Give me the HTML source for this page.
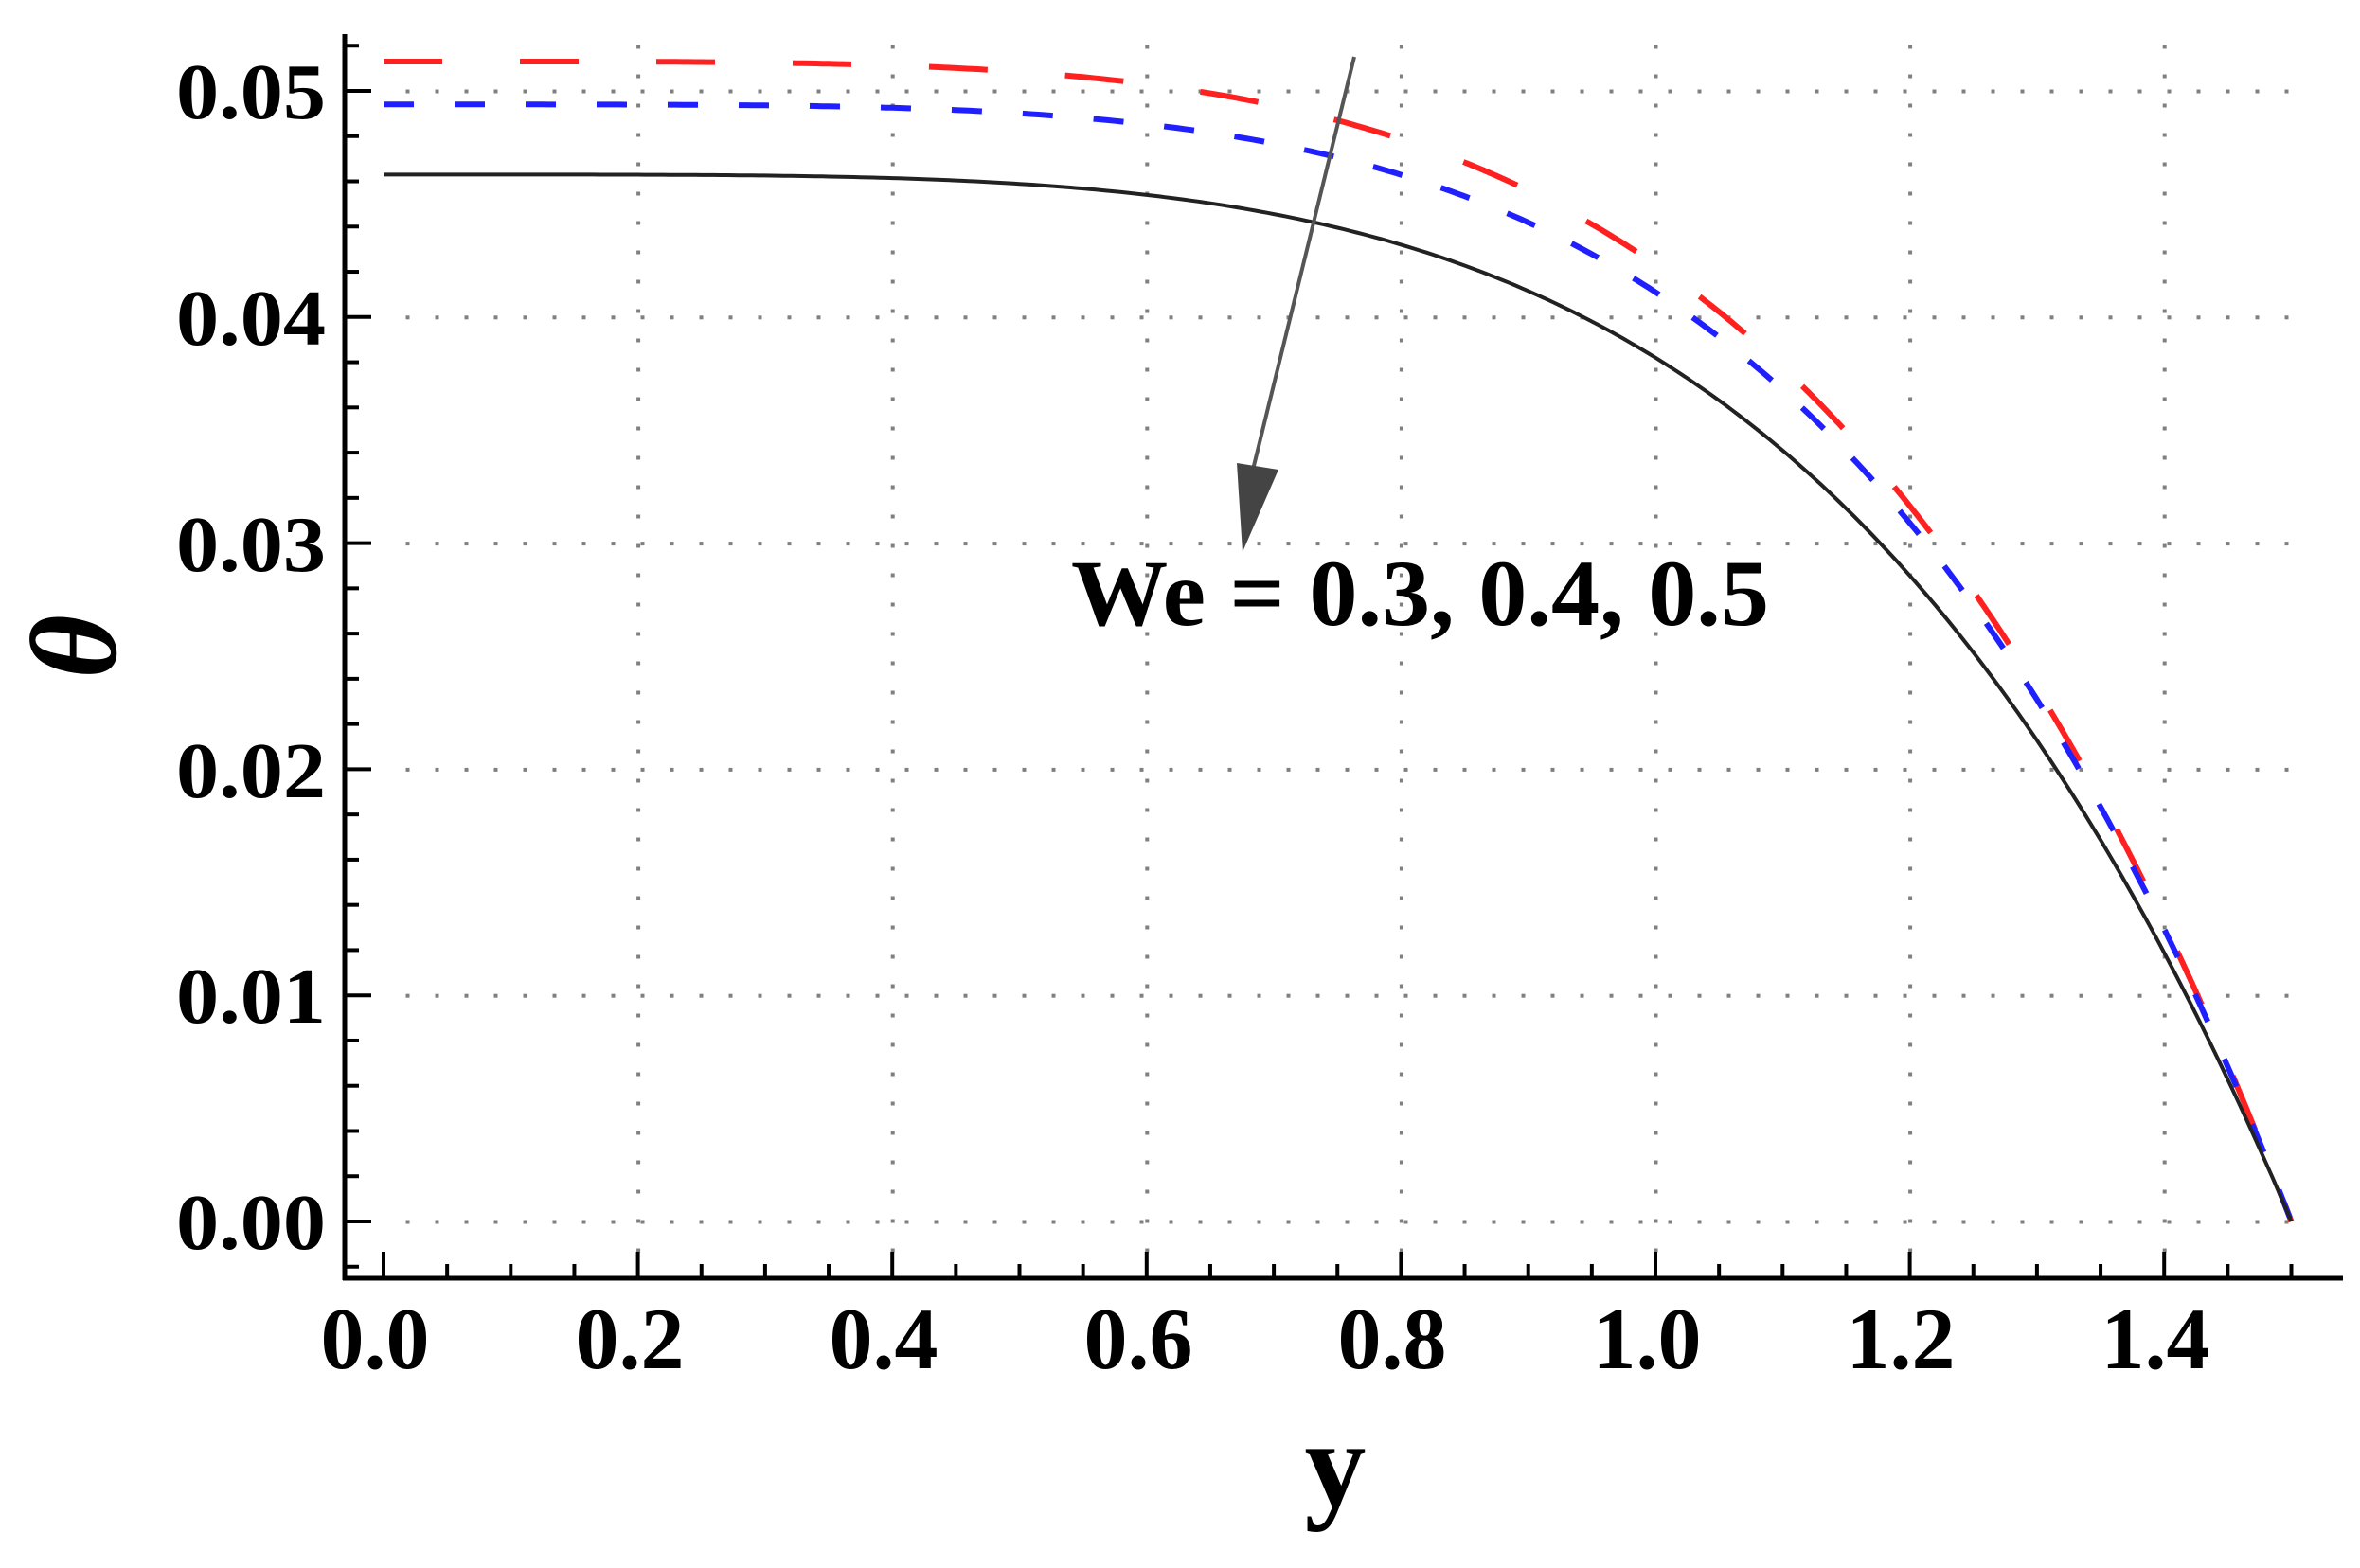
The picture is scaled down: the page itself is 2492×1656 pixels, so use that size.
<!DOCTYPE html>
<html><head><meta charset="utf-8"><style>
html,body{margin:0;padding:0;background:#fff;}
svg{display:block;}
text{font-family:"Liberation Serif",serif;font-weight:bold;fill:#000;}
</style></head><body>
<svg id="s" width="2492" height="1656" viewBox="0 0 2492 1656" xmlns="http://www.w3.org/2000/svg">
<g id="grid" fill="#808080"></g>
<g id="curves" fill="none"></g>
<line x1="364" y1="36" x2="364" y2="1352" stroke="#000" stroke-width="5"/>
<line x1="362" y1="1350" x2="2474" y2="1350" stroke="#000" stroke-width="5"/>
<g id="ticks" stroke="#000" stroke-width="4"></g>
<g font-size="84">
<text x="344" y="125" text-anchor="end" textLength="158" lengthAdjust="spacingAndGlyphs">0.05</text>
<text x="344" y="364" text-anchor="end" textLength="158" lengthAdjust="spacingAndGlyphs">0.04</text>
<text x="344" y="603" text-anchor="end" textLength="158" lengthAdjust="spacingAndGlyphs">0.03</text>
<text x="344" y="842" text-anchor="end" textLength="158" lengthAdjust="spacingAndGlyphs">0.02</text>
<text x="344" y="1080" text-anchor="end" textLength="158" lengthAdjust="spacingAndGlyphs">0.01</text>
<text x="344" y="1319" text-anchor="end" textLength="158" lengthAdjust="spacingAndGlyphs">0.00</text>
</g>
<g font-size="92" text-anchor="middle">
<text x="396" y="1445">0.0</text>
<text x="665" y="1445">0.2</text>
<text x="933" y="1445">0.4</text>
<text x="1202" y="1445">0.6</text>
<text x="1470" y="1445">0.8</text>
<text x="1739" y="1445">1.0</text>
<text x="2007" y="1445">1.2</text>
<text x="2276" y="1445">1.4</text>
</g>
<text x="1410" y="1590" font-size="130" text-anchor="middle">y</text>
<text x="0" y="0" font-size="130" font-style="italic" text-anchor="middle" transform="translate(122,683) rotate(-90)">θ</text>
<line x1="1430" y1="60" x2="1322" y2="500" stroke="#555" stroke-width="4"/>
<polygon points="1306,489 1350,496 1312,583" fill="#444"/>
<text x="1131" y="660" font-size="100" textLength="737" lengthAdjust="spacingAndGlyphs">We = 0.3, 0.4, 0.5</text>
</svg>
<script>
(function(){
var NS="http://www.w3.org/2000/svg";
function px(x){return 405+x*1343;}
function py(v){return 1290-v*23880;}
var g=document.getElementById('grid'),t=document.getElementById('ticks'),c=document.getElementById('curves');
function el(p,tag,a){var e=document.createElementNS(NS,tag);for(var k in a)e.setAttribute(k,a[k]);p.appendChild(e);return e;}
for(var i=0;i<=5;i++){var y=py(i*0.01);for(var x=430;x<2440;x+=31)el(g,'rect',{x:x-1.5,y:y-1.5,width:4,height:4});}
for(var j=1;j<=7;j++){var x=px(j*0.2);for(var y=1320;y>40;y-=31)el(g,'rect',{x:x-1.5,y:y-1.5,width:4,height:4});}
for(var k=0;k<=26;k++){var v=k*0.002;var y=py(v);if(y<40)continue;var major=(k%5==0);el(t,'line',{x1:364,y1:y,x2:364+(major?28:15),y2:y});}
el(t,'line',{x1:364,y1:py(-0.002),x2:379,y2:py(-0.002)});
for(var k=0;k<=30;k++){var xv=k*0.05;var x=px(xv);if(x>2440)continue;var major=(k%4==0);el(t,'line',{x1:x,y1:1350,x2:x,y2:1350-(major?28:15)});}
function path(a,n){var d='';for(var i=0;i<=300;i++){var y=1.5*i/300;var v=a*(1-Math.pow(y/1.5,n));d+=(i?'L':'M')+px(y).toFixed(1)+','+py(v).toFixed(1);}return d;}
el(c,'path',{d:path(0.0513,4.3),stroke:'#ff2020','stroke-width':6,'stroke-dasharray':'62 82'});
el(c,'path',{d:path(0.0494,4.4),stroke:'#2020ff','stroke-width':6,'stroke-dasharray':'32 43'});
el(c,'path',{d:path(0.0463,4.3),stroke:'#222','stroke-width':4});
})();
</script>
</body></html>
